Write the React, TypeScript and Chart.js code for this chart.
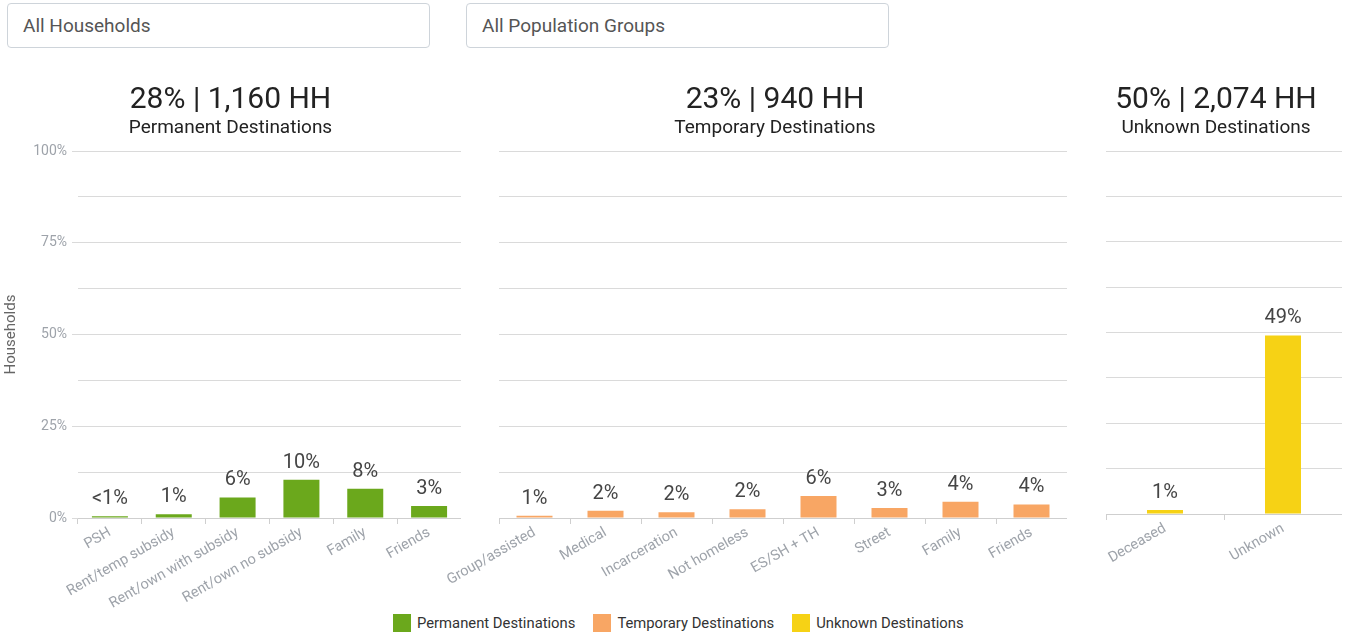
import React, { useEffect, useRef } from 'react';
import { Chart, registerables } from 'chart.js';

Chart.register(...registerables);

// ---------- data ----------
const permanentCategories = ['PSH', 'Rent/temp subsidy', 'Rent/own with subsidy', 'Rent/own no subsidy', 'Family', 'Friends'];
const permanentValues = [0.45, 1.0, 5.6, 10.4, 8.0, 3.3];

const temporaryCategories = ['Group/assisted', 'Medical', 'Incarceration', 'Not homeless', 'ES/SH + TH', 'Street', 'Family', 'Friends'];
const temporaryValues = [0.6, 2.0, 1.6, 2.4, 6.0, 2.7, 4.4, 3.7];

const unknownCategories = ['Deceased', 'Unknown'];
const unknownValues = [1.1, 49.2];

const groupHeadlines = ['28% | 1,160 HH', '23% | 940 HH', '50% | 2,074 HH'];
const groupNames = ['Permanent Destinations', 'Temporary Destinations', 'Unknown Destinations'];
const filterLabels = ['All Households', 'All Population Groups'];
const yAxisTitle = 'Households';

// ---------- styles ----------
const FONT = 'Roboto, "Noto Sans", sans-serif';
const groupColors = ['#6BA81C', '#F8A664', '#F6D215'];
const GRID = '#dadada';
const TICK_TEXT = '#9ea3aa';

const fmt = (v: number) => (Math.round(v) === 0 ? '<1%' : Math.round(v) + '%');

const valueLabelPlugin = {
  id: 'valueLabels',
  afterDatasetsDraw(chart: any) {
    const ctx = chart.ctx;
    const meta = chart.getDatasetMeta(0);
    const data = chart.data.datasets[0].data as number[];
    ctx.save();
    ctx.font = `20px ${FONT}`;
    ctx.fillStyle = '#454545';
    ctx.textAlign = 'center';
    ctx.textBaseline = 'alphabetic';
    meta.data.forEach((bar: any, i: number) => {
      ctx.fillText(fmt(data[i]), bar.x, bar.y - 12);
    });
    ctx.restore();
  },
};

type Panel = {
  categories: string[];
  values: number[];
  idx: number;
  left: number;
  width: number;
  padLeft: number;
  yWidth: number;
  xHeight: number;
  showY: boolean;
};

const CANVAS_TOP = 70;
const CANVAS_H = 540;

const panels: Panel[] = [
  { categories: permanentCategories, values: permanentValues, idx: 0, left: 0, width: 461, padLeft: 0, yWidth: 78, xHeight: 92, showY: true },
  { categories: temporaryCategories, values: temporaryValues, idx: 1, left: 430, width: 637, padLeft: 53, yWidth: 16, xHeight: 92, showY: false },
  { categories: unknownCategories, values: unknownValues, idx: 2, left: 1060, width: 282, padLeft: 30, yWidth: 16, xHeight: 96, showY: false },
];

function BarPanel({ p }: { p: Panel }) {
  const ref = useRef<HTMLCanvasElement>(null);
  useEffect(() => {
    if (!ref.current) return;
    const color = groupColors[p.idx];
    const chart = new Chart(ref.current, {
      type: 'bar',
      data: {
        labels: p.categories,
        datasets: [
          {
            label: groupNames[p.idx],
            data: p.values,
            backgroundColor: color,
            borderWidth: 0,
            maxBarThickness: 36,
            barPercentage: 0.9,
            categoryPercentage: 0.8,
          },
        ],
      },
      options: {
        responsive: false,
        animation: false,
        layout: { padding: { left: p.padLeft, right: 0, top: 0, bottom: 0 } },
        plugins: {
          legend: { display: false },
          tooltip: { enabled: false },
          title: {
            display: true,
            text: groupHeadlines[p.idx],
            color: '#222',
            font: { family: FONT, size: 30, weight: 'normal', lineHeight: 1.0 },
            padding: { top: 15, bottom: 0 },
          },
          subtitle: {
            display: true,
            text: groupNames[p.idx],
            color: '#222',
            font: { family: FONT, size: 19, weight: 'normal', lineHeight: 1.2 },
            padding: { top: 2, bottom: 11.2 },
          },
        },
        scales: {
          x: {
            offset: true,
            grid: {
              display: true,
              drawOnChartArea: false,
              drawTicks: true,
              tickLength: 6,
              offset: true,
              color: '#cfcfcf',
            },
            border: { display: true, color: '#cfcfcf' },
            ticks: {
              autoSkip: false,
              minRotation: 30,
              maxRotation: 30,
              color: TICK_TEXT,
              font: { family: FONT, size: 14.5 },
              padding: 0,
            },
            afterFit: (s: any) => {
              s.height = p.xHeight;
              s.paddingLeft = 0;
              s.paddingRight = 0;
            },
          },
          y: {
            min: 0,
            max: 100,
            border: { display: false },
            grid: {
              color: GRID,
              drawTicks: p.showY,
              tickLength: 6,
              tickColor: (ctx: any) => (ctx.tick && ctx.tick.value % 25 === 0 ? GRID : 'rgba(0,0,0,0)'),
            },
            ticks: {
              display: p.showY,
              stepSize: 12.5,
              padding: 5,
              color: TICK_TEXT,
              font: { family: FONT, size: 14 },
              callback: (v: any) => (Number(v) % 25 === 0 ? v + '%' : ''),
            },
            title: {
              display: p.showY,
              text: yAxisTitle,
              color: '#666',
              font: { family: FONT, size: 15 },
              padding: { top: 2, bottom: 0 },
            },
            afterFit: (s: any) => {
              s.width = p.yWidth;
              s.paddingTop = 0;
              s.paddingBottom = 0;
            },
          },
        },
      },
      plugins: [valueLabelPlugin],
    } as any);
    return () => chart.destroy();
  }, [p]);
  return (
    <canvas
      ref={ref}
      width={p.width}
      height={CANVAS_H}
      style={{ position: 'absolute', left: p.left, top: CANVAS_TOP, width: p.width, height: CANVAS_H }}
    />
  );
}

export default function App() {
  return (
    <div
      style={{
        position: 'absolute',
        left: 0,
        top: 0,
        width: 1347,
        height: 637,
        background: '#fff',
        fontFamily: FONT,
        overflow: 'hidden',
      }}
    >
      {filterLabels.map((t, i) => (
        <div
          key={t}
          style={{
            position: 'absolute',
            left: i === 0 ? 7 : 466,
            top: 3,
            width: 423,
            height: 45,
            boxSizing: 'border-box',
            border: '1px solid #ced4da',
            borderRadius: 4,
            paddingLeft: 15,
            lineHeight: '43px',
            fontSize: 19,
            color: '#555',
          }}
        >
          {t}
        </div>
      ))}
      {panels.map((p) => (
        <BarPanel key={p.idx} p={p} />
      ))}
      <div
        style={{
          position: 'absolute',
          left: 393,
          top: 614,
          height: 18,
          display: 'flex',
          alignItems: 'center',
          fontSize: 14.8,
          color: '#333',
          whiteSpace: 'nowrap',
        }}
      >
        {groupNames.map((n, i) => (
          <div key={n} style={{ display: 'flex', alignItems: 'center', marginRight: 18 }}>
            <span style={{ display: 'inline-block', width: 18, height: 18, background: groupColors[i], marginRight: 6 }} />
            <span>{n}</span>
          </div>
        ))}
      </div>
    </div>
  );
}
